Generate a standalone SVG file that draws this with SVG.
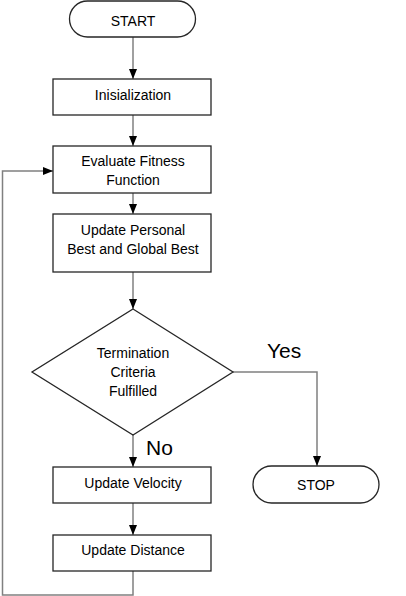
<svg xmlns="http://www.w3.org/2000/svg" width="406" height="596" viewBox="0 0 406 596">
<style>
.box{fill:#fff;stroke:#262626;stroke-width:1.3}
.t{font-family:"Liberation Sans",Arial,sans-serif;font-size:14px;fill:#000;text-anchor:middle}
.lbl{font-family:"Liberation Sans",Arial,sans-serif;font-size:21px;fill:#000}
.c{fill:none;stroke:#808080;stroke-width:1.5}
</style>
<defs>
<marker id="ah" markerUnits="userSpaceOnUse" markerWidth="10" markerHeight="10" viewBox="0 0 10 10" refX="10" refY="5" orient="auto">
<path d="M0,1 L10,5 L0,9 Z" fill="#000"/>
</marker>
</defs>
<rect width="406" height="596" fill="#fff"/>
<g id="connectors">
<line class="c" x1="133" y1="37" x2="133" y2="79" marker-end="url(#ah)"/>
<line class="c" x1="133" y1="115" x2="133" y2="146" marker-end="url(#ah)"/>
<line class="c" x1="133" y1="193" x2="133" y2="214" marker-end="url(#ah)"/>
<line class="c" x1="133" y1="272" x2="133" y2="309" marker-end="url(#ah)"/>
<line class="c" x1="133" y1="435" x2="133" y2="467" marker-end="url(#ah)"/>
<line class="c" x1="133" y1="503" x2="133" y2="535" marker-end="url(#ah)"/>
<polyline class="c" points="233,372 317,372 317,466" marker-end="url(#ah)"/>
<polyline class="c" points="133,571 133,595 2.5,595 2.5,171 53,171" marker-end="url(#ah)"/>
<text class="lbl" x="267" y="358">Yes</text>
<text class="lbl" x="146" y="455">No</text>
</g>
<g id="start">
<rect class="box" x="69.5" y="1" width="126" height="36" rx="18"/>
<text class="t" x="133" y="26">START</text>
</g>
<g id="init">
<rect class="box" x="53" y="79" width="158" height="36"/>
<text class="t" x="133" y="100">Inisialization</text>
</g>
<g id="evaluate">
<rect class="box" x="53" y="146" width="158" height="47"/>
<text class="t" x="133" y="166">Evaluate Fitness</text>
<text class="t" x="133" y="185">Function</text>
</g>
<g id="update-best">
<rect class="box" x="53" y="214" width="158" height="58"/>
<text class="t" x="133" y="235">Update Personal</text>
<text class="t" x="133" y="254">Best and Global Best</text>
</g>
<g id="decision">
<polygon class="box" points="133,309 233,372 133,435 32,372"/>
<text class="t" x="133" y="358">Termination</text>
<text class="t" x="133" y="377">Criteria</text>
<text class="t" x="133" y="396">Fulfilled</text>
</g>
<g id="velocity">
<rect class="box" x="53" y="467" width="158" height="36"/>
<text class="t" x="133" y="488">Update Velocity</text>
</g>
<g id="distance">
<rect class="box" x="53" y="535" width="158" height="36"/>
<text class="t" x="133" y="555">Update Distance</text>
</g>
<g id="stop">
<rect class="box" x="253" y="466" width="126" height="37" rx="18.5"/>
<text class="t" x="316" y="490">STOP</text>
</g>
</svg>
